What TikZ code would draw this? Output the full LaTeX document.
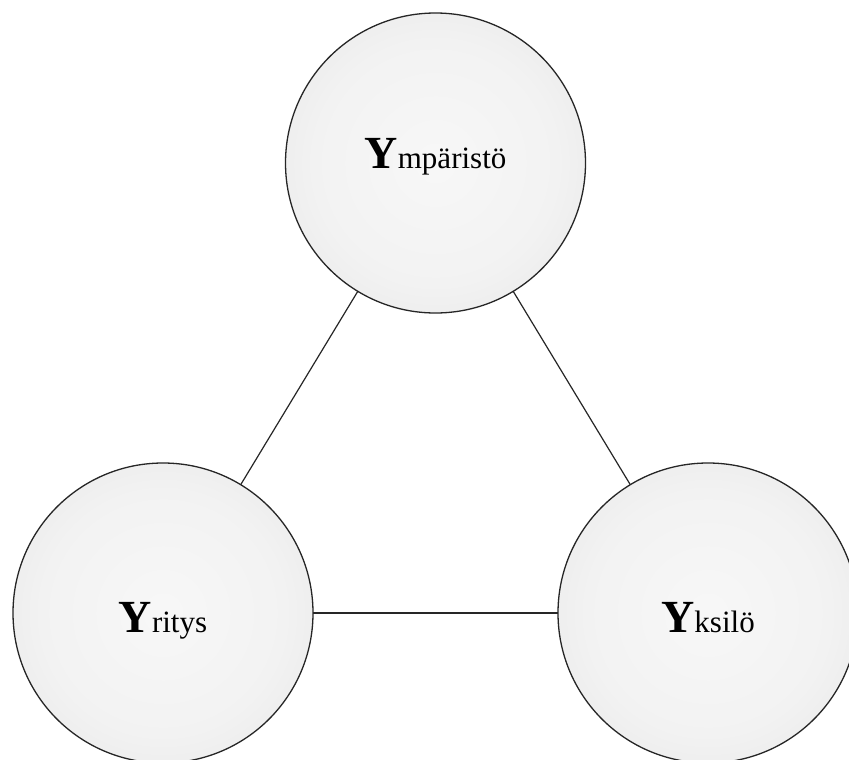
\documentclass[tikz,border=0pt]{standalone}
\usepackage{fontspec}
\setmainfont{Liberation Serif}
\pgfdeclareradialshading{ballshade}{\pgfpoint{0bp}{0bp}}{color(0bp)=(white!97!black); color(20bp)=(white!95!black); color(40bp)=(white!89!black); color(50bp)=(white!84!black)}
\begin{document}
\begin{tikzpicture}[x=1pt,y=-1pt,
  ball/.style={circle, draw=black!85, line width=1.3pt, minimum size=300pt, inner sep=0pt, shading=ballshade},
  link/.style={draw=black!85, line width=1.2pt},
  big/.style={font=\fontsize{46}{46}\selectfont\bfseries},
  small/.style={font=\fontsize{31}{31}\selectfont}]
\clip (0,0) rectangle (849,760);
\fill[white] (0,0) rectangle (849,760);
\coordinate (ct) at (435.5,163);
\coordinate (cl) at (163,613);
\coordinate (cr) at (708,613);
\draw[link] (ct) -- (cl);
\draw[link] (ct) -- (cr);
\draw[link] (cl) -- (cr);
\node[ball] (top) at (ct) {};
\node[ball] (left) at (cl) {};
\node[ball] (right) at (cr) {};
\node[anchor=base, inner sep=0pt] (ttop) at ([yshift=-5pt]top.center) {\fontsize{46}{46}\selectfont\bfseries Y\mdseries\fontsize{31}{31}\selectfont mpäristö};
\node[anchor=base, inner sep=0pt] (tleft) at ([yshift=-19pt]left.center) {\fontsize{46}{46}\selectfont\bfseries Y\mdseries\fontsize{31}{31}\selectfont ritys};
\node[anchor=base, inner sep=0pt] (tright) at ([yshift=-19pt]right.center) {\fontsize{46}{46}\selectfont\bfseries Y\mdseries\fontsize{31}{31}\selectfont ksilö};
\end{tikzpicture}
\end{document}
